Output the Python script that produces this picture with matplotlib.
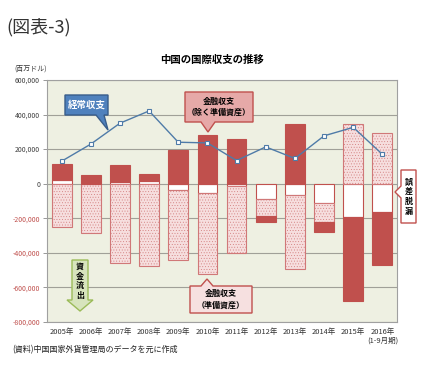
import matplotlib
matplotlib.use("Agg")
import matplotlib.pyplot as plt
import numpy as np
from matplotlib.patches import Polygon

plt.rcParams['font.family'] = ['Noto Sans CJK JP', 'DejaVu Sans']
plt.rcParams['hatch.linewidth'] = 0.3

categories = ["2005年", "2006年", "2007年", "2008年", "2009年", "2010年",
              "2011年", "2012年", "2013年", "2014年", "2015年", "2016年\n(1-9月期)"]
current_account = [130000, 229000, 350000, 421000, 240000, 236000,
                   134000, 213000, 146000, 277000, 326000, 170000]
fin_excl_reserves = [93000, 48000, 94000, 43000, 193000, 280000,
                     261000, -39000, 343000, -54000, -488000, -304000]
errors_omissions = [23000, 0, 12000, 15000, -39000, -52000,
                    -16000, -87000, -64000, -110000, -190000, -165000]
reserves = [-252000, -284000, -461000, -478000, -402000, -471000,
            -385000, -97000, -430000, -113000, 343000, 294000]
yticks = [600000, 400000, 200000, 0, -200000, -400000, -600000, -800000]

W, H = 424, 365
fig = plt.figure(figsize=(W / 100, H / 100), dpi=100)
fig.patch.set_facecolor('white')
ax = fig.add_axes([47 / W, 1 - 322 / H, 350 / W, 242 / H])
ax.set_facecolor('#EEF0E2')

x = np.arange(len(categories))
bw = 0.68
pos_base = np.zeros(len(x))
neg_base = np.zeros(len(x))
styles = [
    (errors_omissions, dict(facecolor='white', edgecolor='#C0504D', hatch=None)),
    (reserves, dict(facecolor='#F6DEDE', edgecolor='#D07878', hatch='......')),
    (fin_excl_reserves, dict(facecolor='#C0504D', edgecolor='#C0504D', hatch=None)),
]
for vals, st in styles:
    v = np.array(vals, dtype=float)
    bottoms = np.where(v >= 0, pos_base, neg_base)
    ax.bar(x, v, bw, bottom=bottoms, linewidth=0.8, zorder=3, **st)
    pos_base = pos_base + np.where(v > 0, v, 0)
    neg_base = neg_base + np.where(v < 0, v, 0)

ax.plot(x, current_account, color='#4F7BA8', lw=1.0, zorder=5,
        marker='s', markersize=3.5, markerfacecolor='white',
        markeredgecolor='#4F7BA8', markeredgewidth=0.8)

ax.set_xlim(-0.5, len(x) - 0.5)
ax.set_ylim(-800000, 600000)
ax.set_yticks(yticks)
ax.set_yticklabels([f"{t:,}" for t in yticks], fontsize=5)
for lab, t in zip(ax.get_yticklabels(), yticks):
    lab.set_color('#C0504D' if t < 0 else '#404040')
ax.set_xticks(x)
ax.set_xticklabels(categories, fontsize=5.4, color='#333333', linespacing=1.1)
ax.tick_params(axis='x', length=0, pad=4)
ax.tick_params(axis='y', length=3, width=0.6, color='#888888', pad=2)
ax.grid(axis='y', color='#A0A098', lw=0.8, zorder=1)
for s in ax.spines.values():
    s.set_color('#A0A0A0')
    s.set_linewidth(0.8)

def P(px, py):
    return (px / W, 1 - py / H)

def poly(pts, fc, ec, lw=1.0):
    fig.add_artist(Polygon([P(a, b) for a, b in pts], closed=True,
                           transform=fig.transFigure, facecolor=fc,
                           edgecolor=ec, lw=lw, zorder=10))

# 経常収支 callout
poly([(65, 95), (108, 95), (108, 115), (104, 115), (108, 130), (96, 115), (65, 115)],
     '#4F81BD', '#385D8A')
fig.text(*P(86.5, 105), "経常収支", color='white', fontsize=6.8, fontweight='bold',
         ha='center', va='center', zorder=11)

# 金融収支(除く準備資産)
poly([(185, 92), (253, 92), (253, 122), (215, 122), (208, 132), (201, 122), (185, 122)],
     '#E6A9A8', '#C0504D')
fig.text(*P(219, 107), "金融収支\n（除く準備資産）", color='black', fontsize=5.8,
         fontweight='bold', ha='center', va='center', zorder=11, linespacing=1.35)

# 金融収支(準備資産)
poly([(190, 286), (201, 286), (207, 279), (213, 286), (252, 286), (252, 313), (190, 313)],
     '#F6E0E0', '#C0504D')
fig.text(*P(221, 299.5), "金融収支\n（準備資産）", color='black', fontsize=5.8,
         fontweight='bold', ha='center', va='center', zorder=11, linespacing=1.35)

# 誤差脱漏
poly([(401, 170), (416, 170), (416, 223), (401, 223), (401, 198), (395, 192), (401, 186)],
     'white', '#C0504D')
fig.text(*P(408.5, 196.5), "誤\n差\n脱\n漏", color='black', fontsize=5.8, fontweight='bold',
         ha='center', va='center', zorder=11, linespacing=1.1)

# 資金流出 arrow
poly([(72, 260), (88, 260), (88, 300), (93, 300), (80, 311), (67, 300), (72, 300)],
     '#D7E4BD', '#9BBB59')
fig.text(*P(80, 281), "資\n金\n流\n出", color='black', fontsize=5.8, fontweight='bold',
         ha='center', va='center', zorder=11, linespacing=1.1)

fig.text(*P(6, 27), "(図表-3)", fontsize=13, color='#333333', ha='left', va='center')
fig.text(*P(212, 60), "中国の国際収支の推移", fontsize=7.5, fontweight='bold',
         ha='center', va='center')
fig.text(*P(14, 69), "(百万ドル)", fontsize=5, color='#333333', ha='left', va='center')
fig.text(*P(12, 350), "(資料)中国国家外貨管理局のデータを元に作成", fontsize=5.8,
         color='#222222', ha='left', va='center')

fig.savefig("out.png", dpi=100, facecolor='white')
